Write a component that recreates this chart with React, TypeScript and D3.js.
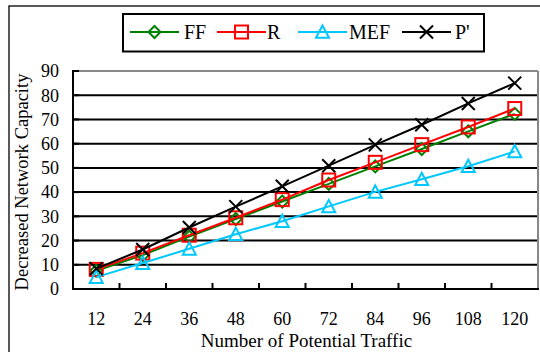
import React from "react";
import * as d3 from "d3";

const categories = [12, 24, 36, 48, 60, 72, 84, 96, 108, 120];
const ffValues = [7.5, 14, 21.6, 28.9, 36.1, 43.4, 50.6, 57.8, 65.1, 72.3];
const rValues = [8.1, 14.8, 22.2, 29.4, 36.9, 45.0, 52.3, 59.6, 66.9, 74.5];
const mefValues = [4.9, 10.7, 16.6, 22.6, 28.0, 34.1, 40.1, 45.3, 50.7, 56.8];
const pValues = [8.4, 16.3, 25.4, 34.0, 42.4, 50.9, 59.5, 67.8, 76.6, 85.0];
const yTicks = [0, 10, 20, 30, 40, 50, 60, 70, 80, 90];
const seriesNames = ["FF", "R", "MEF", "P'"];
const seriesColors = ["#008000", "#FF0000", "#00C8FF", "#000000"];
const seriesMarkers = ["diamond", "square", "triangle", "x"];

const FONT = "Liberation Serif, Times New Roman, Tinos, DejaVu Serif, serif";

function Marker({ type, x, y, color }: { type: string; x: number; y: number; color: string }) {
  if (type === "diamond") {
    const s = 6;
    return (
      <path
        d={`M${x},${y - s}L${x + s},${y}L${x},${y + s}L${x - s},${y}Z`}
        fill="none"
        stroke={color}
        strokeWidth={2}
      />
    );
  }
  if (type === "square") {
    const s = 6.5;
    return <rect x={x - s} y={y - s} width={2 * s} height={2 * s} fill="none" stroke={color} strokeWidth={2} />;
  }
  if (type === "triangle") {
    const s = 6.5;
    return (
      <path
        d={`M${x},${y - s}L${x + s},${y + s * 0.9}L${x - s},${y + s * 0.9}Z`}
        fill="none"
        stroke={color}
        strokeWidth={2}
      />
    );
  }
  const s = 6.5;
  return (
    <path
      d={`M${x - s},${y - s}L${x + s},${y + s}M${x + s},${y - s}L${x - s},${y + s}`}
      fill="none"
      stroke={color}
      strokeWidth={2}
    />
  );
}

export default function App() {
  const W = 540;
  const H = 352;
  const left = 73;
  const right = 538;
  const top = 71;
  const bottom = 289;

  const x = d3
    .scaleBand<number>()
    .domain(categories)
    .range([left, right])
    .paddingInner(0)
    .paddingOuter(0);
  const y = d3.scaleLinear().domain([0, 90]).range([bottom, top]);

  const allSeries = [ffValues, rValues, mefValues, pValues];
  const line = d3
    .line<number>()
    .x((_, i) => (x(categories[i]) as number) + x.bandwidth() / 2)
    .y((d) => y(d));

  const legendItems = [
    { lx: 130, tx: 184 },
    { lx: 217, tx: 267 },
    { lx: 298, tx: 349 },
    { lx: 402, tx: 455 },
  ];
  const legendY = 32;
  const ts = { fontFamily: FONT };

  return (
    <svg width={W} height={H} style={{ position: "absolute", left: 0, top: 0, fontFamily: FONT }}>
      <rect x={0} y={0} width={W} height={H} fill="white" />
      {/* outer border */}
      <rect x={9} y={6} width={W} height={H} fill="none" stroke="#000" strokeWidth={1.3} />

      {/* gridlines */}
      {yTicks
        .filter((t) => t > 0 && t < 90)
        .map((t) => (
          <line key={t} x1={left} x2={right} y1={y(t)} y2={y(t)} stroke="#000" strokeWidth={2} />
        ))}
      {/* top & right border gray */}
      <line x1={left} x2={right} y1={y(90)} y2={y(90)} stroke="#888" strokeWidth={2} />
      <line x1={right} x2={right} y1={top} y2={bottom} stroke="#888" strokeWidth={2} />
      {/* y axis */}
      <line x1={left} x2={left} y1={top - 1} y2={bottom + 1} stroke="#000" strokeWidth={2} />
      {yTicks.map((t) => (
        <line key={"yt" + t} x1={left} x2={left + 6} y1={y(t)} y2={y(t)} stroke="#000" strokeWidth={2} />
      ))}
      {yTicks.map((t) => (
        <text key={"yl" + t} x={59} y={y(t)} dy="0.35em" textAnchor="end" fontSize={18} fill="#000" style={ts}>
          {t}
        </text>
      ))}
      {/* x axis */}
      <line x1={left - 1} x2={right + 1} y1={bottom} y2={bottom} stroke="#000" strokeWidth={2} />
      {categories.slice(1).map((c) => (
        <line
          key={"xt" + c}
          x1={x(c) as number}
          x2={x(c) as number}
          y1={bottom}
          y2={bottom - 6}
          stroke="#000"
          strokeWidth={2}
        />
      ))}
      {categories.map((c) => (
        <text
          key={"xl" + c}
          x={(x(c) as number) + x.bandwidth() / 2}
          y={319}
          dy="0.35em"
          textAnchor="middle"
          fontSize={18}
          fill="#000"
          style={ts}
        >
          {c}
        </text>
      ))}
      <text
        x={(left + right) / 2 + 1}
        y={340}
        dy="0.35em"
        textAnchor="middle"
        fontSize={19}
        fill="#000"
        style={ts}
      >
        Number of Potential Traffic
      </text>
      <text
        transform={`translate(22,${(top + bottom) / 2 + 2}) rotate(-90)`}
        textAnchor="middle"
        dy="0.35em"
        fontSize={18.5}
        fill="#000"
        style={ts}
      >
        Decreased Network Capacity
      </text>

      {/* series */}
      {allSeries.map((vals, si) => (
        <g key={"s" + si}>
          <path d={line(vals) as string} fill="none" stroke={seriesColors[si]} strokeWidth={2} />
          {vals.map((v, i) => (
            <Marker
              key={i}
              type={seriesMarkers[si]}
              x={(x(categories[i]) as number) + x.bandwidth() / 2}
              y={y(v)}
              color={seriesColors[si]}
            />
          ))}
        </g>
      ))}

      {/* legend */}
      <rect x={123} y={14} width={361} height={37.5} fill="white" stroke="#000" strokeWidth={2} />
      {seriesNames.map((name, i) => (
        <g key={"lg" + i}>
          <line
            x1={legendItems[i].lx}
            x2={legendItems[i].lx + 49}
            y1={legendY}
            y2={legendY}
            stroke={seriesColors[i]}
            strokeWidth={2}
          />
          <Marker type={seriesMarkers[i]} x={legendItems[i].lx + 24.5} y={legendY} color={seriesColors[i]} />
          <text x={legendItems[i].tx} y={legendY} dy="0.35em" fontSize={20} fill="#000" style={ts}>
            {name}
          </text>
        </g>
      ))}
    </svg>
  );
}
